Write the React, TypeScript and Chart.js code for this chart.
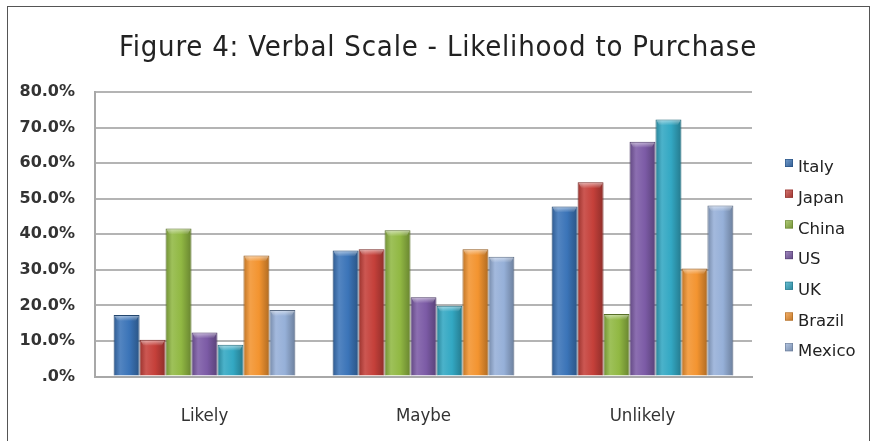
import React, { useEffect, useRef } from 'react';
import { Chart, registerables } from 'chart.js';

Chart.register(...registerables);

const title = 'Figure 4: Verbal Scale - Likelihood to Purchase';
const categories = ['Likely', 'Maybe', 'Unlikely'];
const seriesNames = ['Italy', 'Japan', 'China', 'US', 'UK', 'Brazil', 'Mexico'];
const italy = [17.3, 35.4, 47.8];
const japan = [10.3, 35.8, 54.6];
const china = [41.6, 41.1, 17.6];
const us = [12.4, 22.3, 66.0];
const uk = [8.9, 19.9, 72.3];
const brazil = [34.0, 35.8, 30.4];
const mexico = [18.7, 33.7, 48.1];
const seriesValues = [italy, japan, china, us, uk, brazil, mexico];
const colors = ['#3b74b8', '#c5403a', '#91b843', '#7c5ba6', '#33a8c3', '#f39430', '#96b0d8'];
const yMax = 80;
const yStep = 10;

function shade(hex: string, f: number): string {
  const n = parseInt(hex.slice(1), 16);
  let r = (n >> 16) & 255, g = (n >> 8) & 255, b = n & 255;
  if (f < 1) {
    r = r * f; g = g * f; b = b * f;
  } else {
    const t = f - 1;
    r = r + (255 - r) * t; g = g + (255 - g) * t; b = b + (255 - b) * t;
  }
  return `rgb(${Math.round(r)},${Math.round(g)},${Math.round(b)})`;
}

const decorPlugin = {
  id: 'decor',
  afterDatasetsDraw(chart: any) {
    const ctx = chart.ctx;
    ctx.save();
    chart.data.datasets.forEach((ds: any, i: number) => {
      const meta = chart.getDatasetMeta(i);
      meta.data.forEach((el: any) => {
        const { x, y, width } = el.getProps(['x', 'y', 'width'], true);
        const x0 = x - width / 2;
        const x1 = x + width / 2;
        const h = 6;
        const g = ctx.createLinearGradient(0, y, 0, y + h);
        g.addColorStop(0, 'rgba(255,255,255,0.55)');
        g.addColorStop(1, 'rgba(255,255,255,0.0)');
        ctx.fillStyle = g;
        ctx.beginPath();
        ctx.moveTo(x0 + 1, y + 1);
        ctx.lineTo(x1 - 1, y + 1);
        ctx.lineTo(x1 - 4, y + h);
        ctx.lineTo(x0 + 4, y + h);
        ctx.closePath();
        ctx.fill();
      });
    });
    ctx.restore();
  },
  afterDraw(chart: any) {
    const ctx = chart.ctx;
    ctx.save();
    // title
    ctx.fillStyle = '#222';
    ctx.font = 'normal 29px "DejaVu Sans Condensed", "DejaVu Sans", sans-serif';
    ctx.textAlign = 'center';
    ctx.textBaseline = 'middle';
    try { (ctx as any).letterSpacing = '0.8px'; } catch (e) { /* ignore */ }
    ctx.fillText(title, 438, 48);
    try { (ctx as any).letterSpacing = '0px'; } catch (e) { /* ignore */ }
    // legend
    ctx.font = 'normal 16.5px "DejaVu Sans", sans-serif';
    ctx.textAlign = 'left';
    ctx.textBaseline = 'middle';
    chart.data.datasets.forEach((ds: any, i: number) => {
      const cy = 168 + i * 30.7;
      const bx = 785, by = cy - 9, bs = 8;
      const c = colors[i];
      const g = ctx.createLinearGradient(bx, by, bx + bs, by + bs);
      g.addColorStop(0, shade(c, 1.3));
      g.addColorStop(1, shade(c, 0.8));
      ctx.fillStyle = g;
      ctx.fillRect(bx, by, bs, bs);
      ctx.strokeStyle = shade(c, 0.7);
      ctx.lineWidth = 0.6;
      ctx.strokeRect(bx + 0.3, by + 0.3, bs - 0.6, bs - 0.6);
      ctx.fillStyle = '#222';
      ctx.fillText(ds.label, 798, cy);
    });
    ctx.restore();
  },
};

export default function App() {
  const canvasRef = useRef<HTMLCanvasElement | null>(null);

  useEffect(() => {
    const canvas = canvasRef.current;
    if (!canvas) return;
    const chart = new Chart(canvas, {
      type: 'bar',
      data: {
        labels: categories,
        datasets: seriesNames.map((name, i) => ({
          label: name,
          data: seriesValues[i],
          backgroundColor: (c: any) => {
            const base = colors[i];
            const el = c.element;
            if (!el || typeof el.x !== 'number' || !isFinite(el.width)) return base;
            const x0 = el.x - el.width / 2;
            const x1 = el.x + el.width / 2;
            const g = c.chart.ctx.createLinearGradient(x0, 0, x1, 0);
            g.addColorStop(0, shade(base, 0.78));
            g.addColorStop(0.25, shade(base, 1.12));
            g.addColorStop(0.6, base);
            g.addColorStop(1, shade(base, 0.72));
            return g;
          },
          borderColor: shade(colors[i], 0.6),
          borderWidth: 1,
          categoryPercentage: 0.83,
          barPercentage: 1.0,
        })),
      },
      options: {
        responsive: false,
        animation: false,
        layout: { padding: { left: 0, right: 124, top: 92, bottom: 0 } },
        plugins: {
          legend: { display: false },
          title: { display: false },
          tooltip: { enabled: false },
        },
        scales: {
          x: {
            afterFit: (s: any) => { s.height = 64.5; },
            grid: { display: false },
            border: { display: true, color: '#a8a8a8', width: 2 },
            ticks: {
              color: '#333',
              padding: 21,
              font: { family: '"DejaVu Sans Condensed", "DejaVu Sans", sans-serif', size: 18.5 },
            },
          },
          y: {
            min: 0,
            max: yMax,
            afterFit: (s: any) => { s.width = 95; },
            grid: { color: '#b4b4b4', lineWidth: 2, drawTicks: false },
            border: { display: true, color: '#a8a8a8', width: 2 },
            ticks: {
              stepSize: yStep,
              color: '#333',
              padding: 20,
              font: { family: '"DejaVu Sans", sans-serif', size: 16, weight: 'bold' },
              callback: (v: any) => (Number(v) === 0 ? '.0%' : Number(v).toFixed(1) + '%'),
            },
          },
        },
      },
      plugins: [decorPlugin],
    });
    chart.update();
    return () => chart.destroy();
  }, []);

  return (
    <div style={{ position: 'absolute', left: 0, top: 0, width: 876, height: 441, background: '#fff' }}>
      <div
        style={{
          position: 'absolute',
          left: 7,
          top: 6,
          width: 861,
          height: 440,
          borderLeft: '1px solid #555',
          borderTop: '1px solid #555',
          borderRight: '1px solid #555',
        }}
      />
      <canvas ref={canvasRef} width={876} height={441} style={{ position: 'absolute', left: 0, top: 0 }} />
    </div>
  );
}
